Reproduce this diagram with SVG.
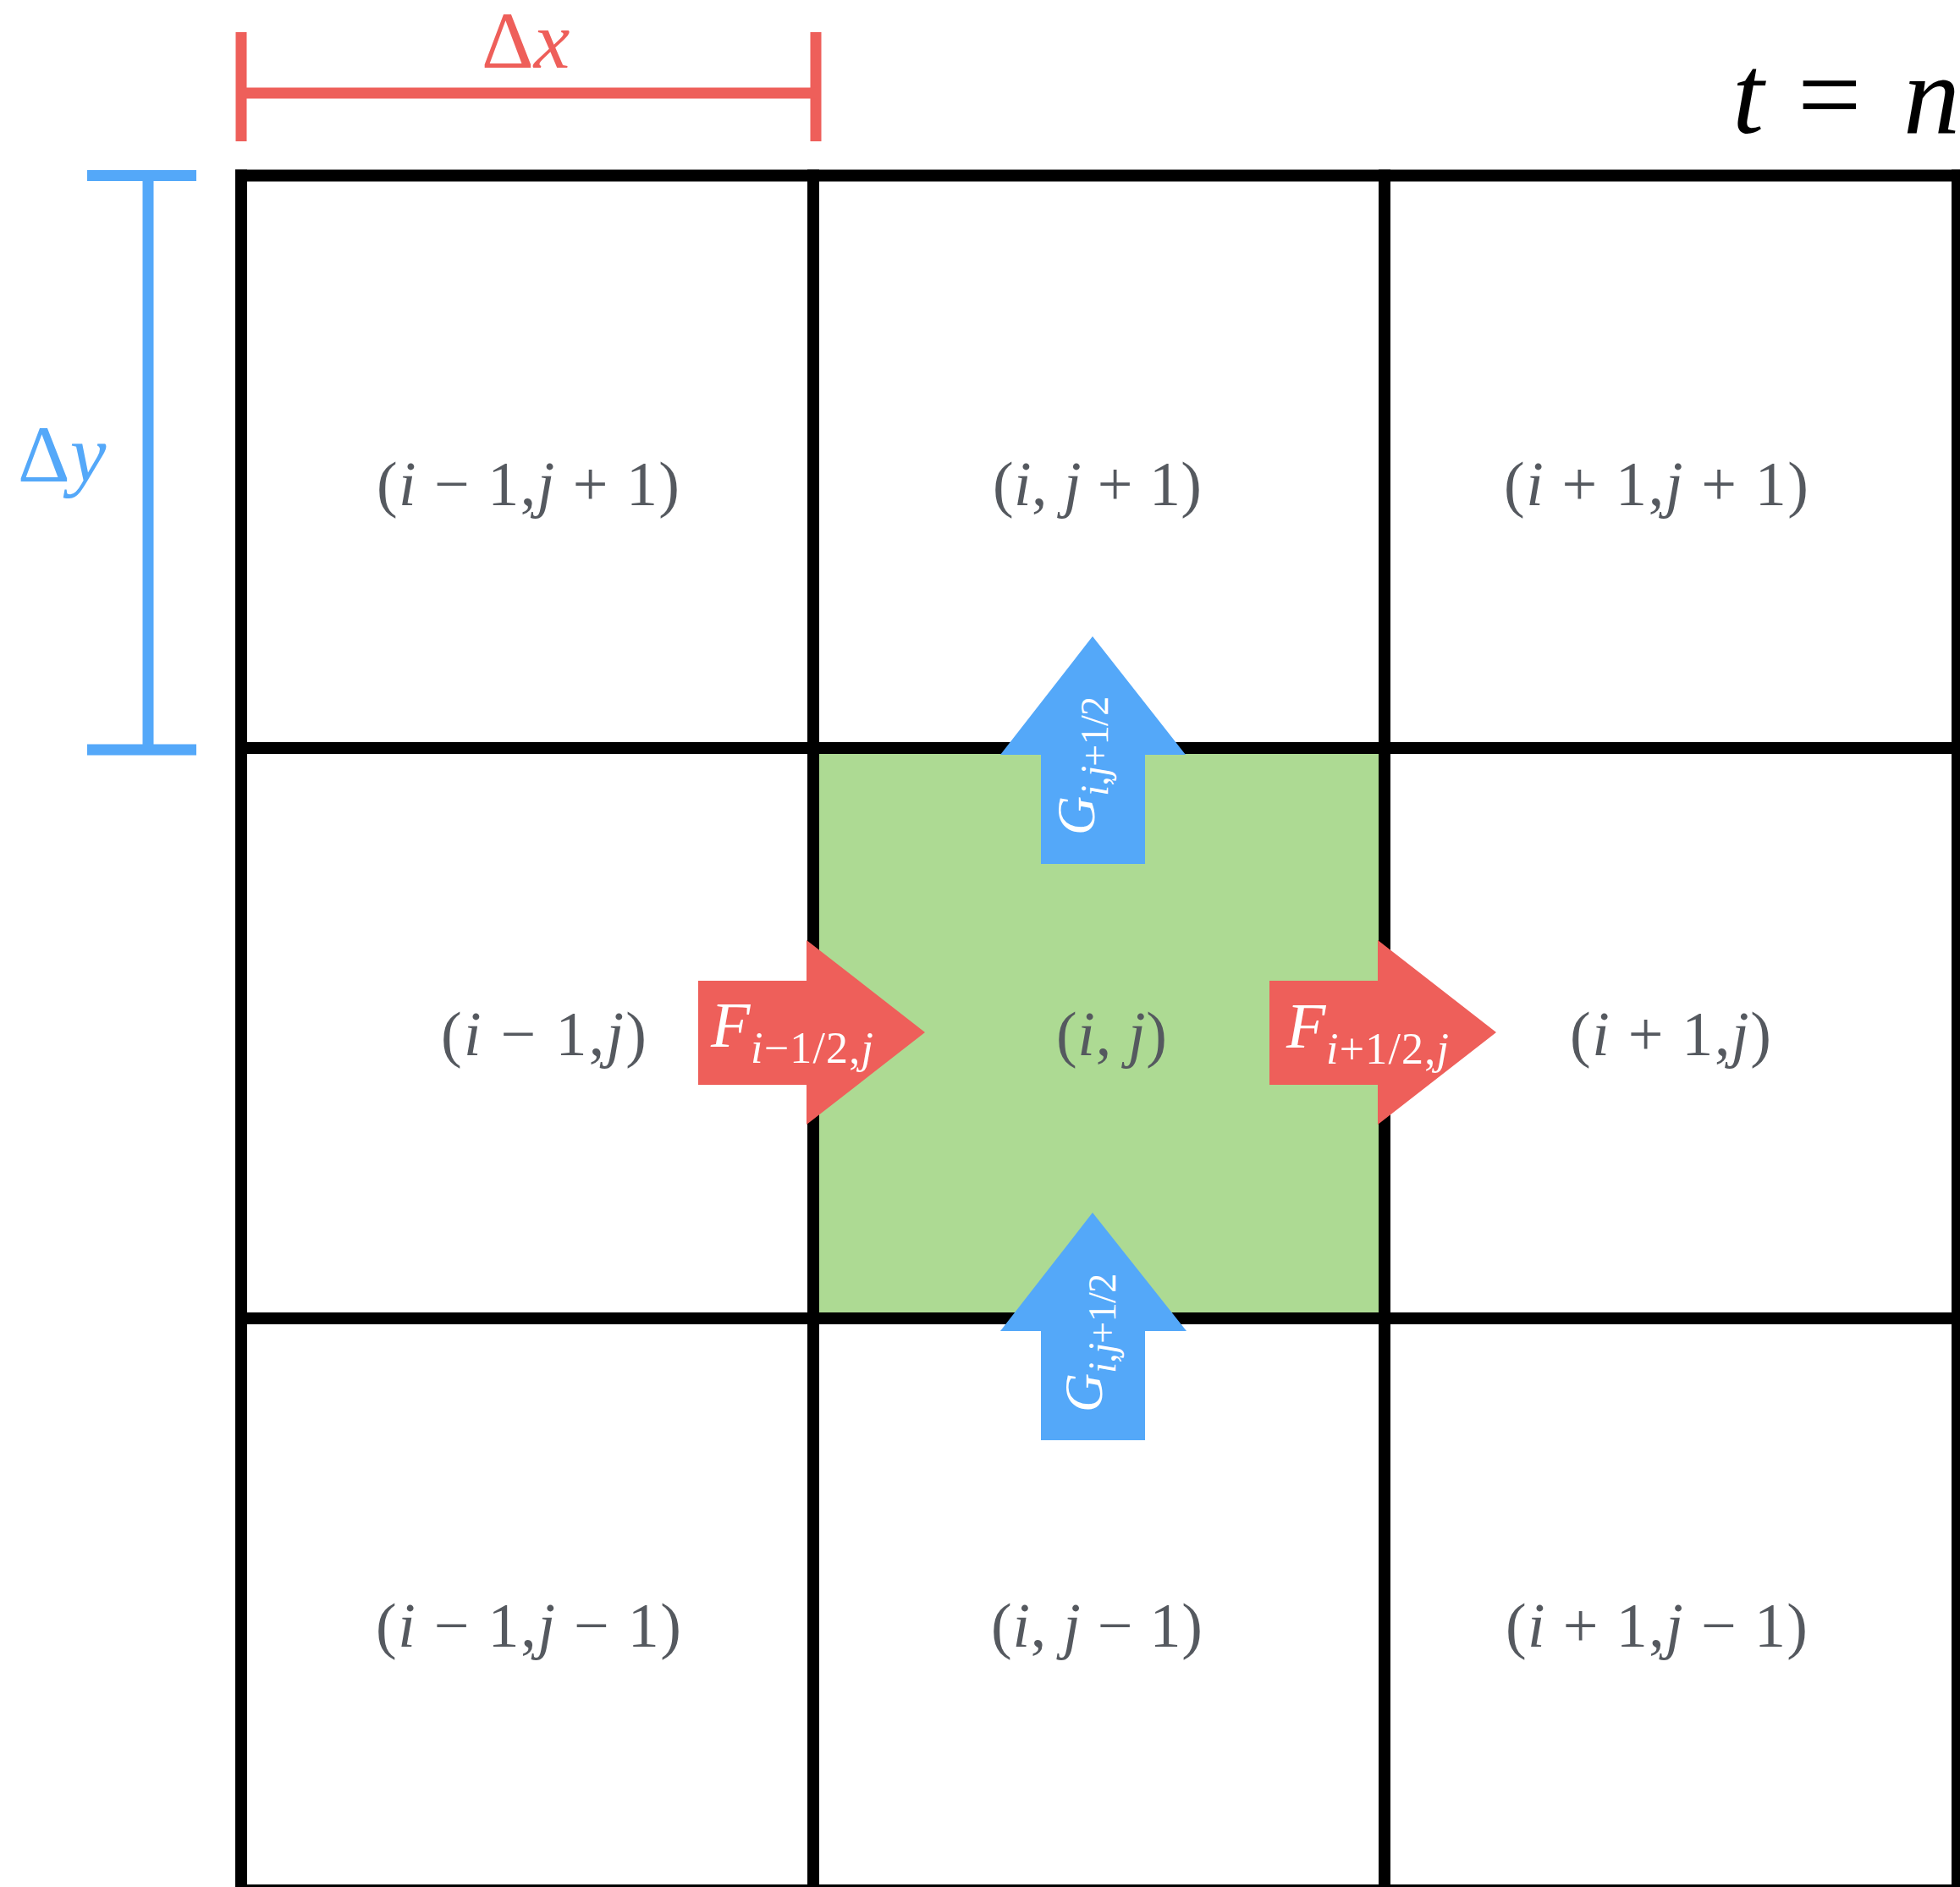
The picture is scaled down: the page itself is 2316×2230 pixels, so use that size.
<svg xmlns="http://www.w3.org/2000/svg" width="2316" height="2230" viewBox="0 0 2316 2230">
<style>
.grid{stroke:#000;stroke-width:14;fill:none;stroke-linecap:square}
.lbl{font-family:"Liberation Serif","Times New Roman",serif;font-size:74px;fill:#55595F}
.it{font-style:italic}
.red{fill:#EE5F5A}
.blue{fill:#54A8F9}
.redl{stroke:#EE5F5A;stroke-width:13;fill:none}
.bluel{stroke:#54A8F9;stroke-width:13;fill:none}
.wt{font-family:"Liberation Serif","Times New Roman",serif;fill:#fff}
.dim{font-family:"Liberation Serif","Times New Roman",serif;font-size:96px}
</style>
<rect width="2316" height="2230" fill="#fff"/>
<g id="cell-center-fill"><rect x="961" y="884" width="675" height="674" fill="#ADDA93"/></g>
<g id="grid">
<line class="grid" x1="285" y1="207.5" x2="285" y2="2240"/>
<line class="grid" x1="961" y1="207.5" x2="961" y2="2240"/>
<line class="grid" x1="1636" y1="207.5" x2="1636" y2="2240"/>
<line class="grid" x1="2313" y1="207.5" x2="2313" y2="2240"/>
<line class="grid" x1="285" y1="207.5" x2="2313" y2="207.5"/>
<line class="grid" x1="285" y1="884" x2="2313" y2="884"/>
<line class="grid" x1="285" y1="1558" x2="2313" y2="1558"/>
<line class="grid" x1="285" y1="2234" x2="2313" y2="2234"/>
</g>
<g id="dim-x">
<line class="redl" x1="285" y1="38" x2="285" y2="167"/>
<line class="redl" x1="964" y1="38" x2="964" y2="167"/>
<line class="redl" x1="285" y1="110" x2="964" y2="110"/>
<text class="dim" x="569" y="80" fill="#EE5F5A">Δ<tspan class="it">x</tspan></text>
</g>
<g id="dim-y">
<line class="bluel" x1="103" y1="207.5" x2="232" y2="207.5"/>
<line class="bluel" x1="103" y1="886" x2="232" y2="886"/>
<line class="bluel" x1="175" y1="207.5" x2="175" y2="886"/>
<text class="dim" x="21" y="569" fill="#54A8F9">Δ<tspan class="it">y</tspan></text>
</g>
<g id="time-label">
<text font-family="'Liberation Serif','Times New Roman',serif" font-size="134" fill="#000"><tspan class="it" x="2047" y="157">t</tspan><tspan x="2124" y="157">=</tspan><tspan class="it" x="2249" y="157">n</tspan></text>
</g>
<g id="cell-im1-jp1"><text class="lbl" x="445" y="597" textLength="358" lengthAdjust="spacing">(<tspan class="it">i</tspan> − 1,<tspan class="it">j</tspan> + 1)</text></g>
<g id="cell-i-jp1"><text class="lbl" x="1173" y="597" textLength="247" lengthAdjust="spacing">(<tspan class="it">i</tspan>, <tspan class="it">j</tspan> + 1)</text></g>
<g id="cell-ip1-jp1"><text class="lbl" x="1777" y="597" textLength="360" lengthAdjust="spacing">(<tspan class="it">i</tspan> + 1,<tspan class="it">j</tspan> + 1)</text></g>
<g id="cell-im1-j"><text class="lbl" x="521" y="1247" textLength="243" lengthAdjust="spacing">(<tspan class="it">i</tspan> − 1,<tspan class="it">j</tspan>)</text></g>
<g id="cell-i-j"><text class="lbl" x="1248" y="1247" textLength="131" lengthAdjust="spacing">(<tspan class="it">i</tspan>, <tspan class="it">j</tspan>)</text></g>
<g id="cell-ip1-j"><text class="lbl" x="1855" y="1247" textLength="238" lengthAdjust="spacing">(<tspan class="it">i</tspan> + 1,<tspan class="it">j</tspan>)</text></g>
<g id="cell-im1-jm1"><text class="lbl" x="444" y="1946" textLength="361" lengthAdjust="spacing">(<tspan class="it">i</tspan> − 1,<tspan class="it">j</tspan> − 1)</text></g>
<g id="cell-i-jm1"><text class="lbl" x="1171" y="1946" textLength="250" lengthAdjust="spacing">(<tspan class="it">i</tspan>, <tspan class="it">j</tspan> − 1)</text></g>
<g id="cell-ip1-jm1"><text class="lbl" x="1779" y="1946" textLength="357" lengthAdjust="spacing">(<tspan class="it">i</tspan> + 1,<tspan class="it">j</tspan> − 1)</text></g>
<g id="fluxes">
<g id="flux-F-minus">
<polygon class="red" points="825,1159 953,1159 953,1111 1093,1220 953,1329 953,1282 825,1282"/>
<text class="wt"><tspan class="it" x="840" y="1237" font-size="76">F</tspan><tspan x="887" y="1256" font-size="52" textLength="145" lengthAdjust="spacing"><tspan class="it">i</tspan>−1/2,<tspan class="it">j</tspan></tspan></text>
</g>
<g id="flux-F-plus">
<polygon class="red" points="1500,1159 1628,1159 1628,1111 1768,1220 1628,1329 1628,1282 1500,1282"/>
<text class="wt"><tspan class="it" x="1520" y="1238" font-size="76">F</tspan><tspan x="1567" y="1257" font-size="52" textLength="145" lengthAdjust="spacing"><tspan class="it">i</tspan>+1/2,<tspan class="it">j</tspan></tspan></text>
</g>
<g id="flux-G-plus">
<polygon class="blue" points="1230,1021 1230,892 1182,892 1291,752 1401,892 1353,892 1353,1021"/>
<text class="wt" transform="translate(1293,987) rotate(-90)"><tspan class="it" font-size="64">G</tspan><tspan font-size="46" dy="16" textLength="118" lengthAdjust="spacing"><tspan class="it">i</tspan>,<tspan class="it">j</tspan>+1/2</tspan></text>
</g>
<g id="flux-G-minus">
<polygon class="blue" points="1230,1702 1230,1573 1182,1573 1291,1433 1402,1573 1353,1573 1353,1702"/>
<text class="wt" transform="translate(1302,1669) rotate(-90)"><tspan class="it" font-size="64">G</tspan><tspan font-size="46" dy="16" textLength="118" lengthAdjust="spacing"><tspan class="it">i</tspan>,<tspan class="it">j</tspan>+1/2</tspan></text>
</g>
</g>
</svg>
